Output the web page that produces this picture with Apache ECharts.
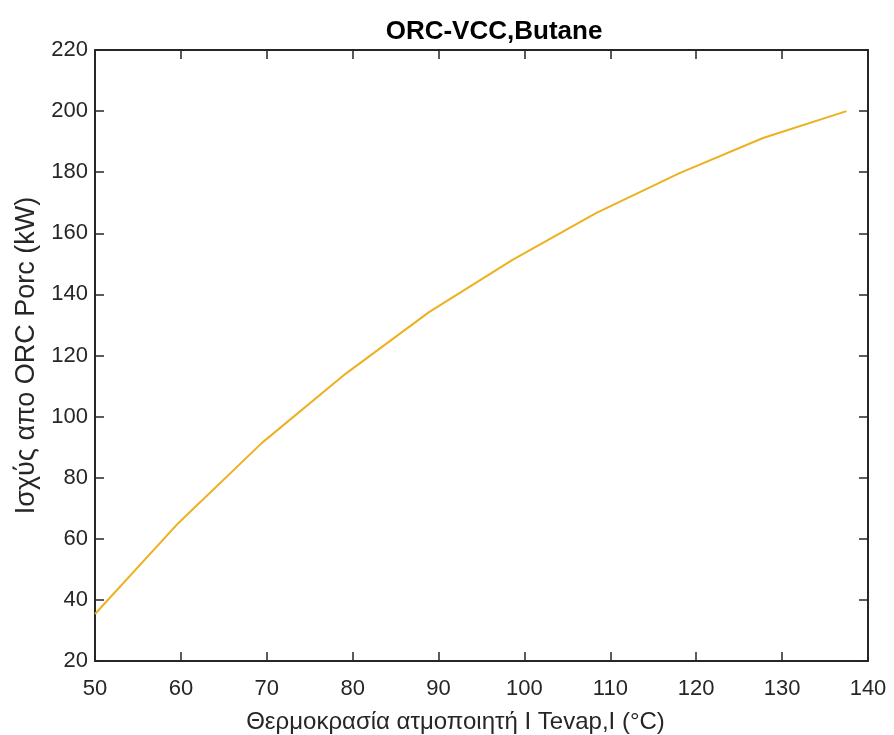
<!DOCTYPE html>
<html>
<head>
<meta charset="utf-8">
<script src="https://cdn.jsdelivr.net/npm/echarts@6/dist/echarts.min.js"></script>
<style>
  html, body { margin: 0; padding: 0; background: #fff; }
  #chart { width: 894px; height: 735px; }
</style>
</head>
<body>
<div id="chart"></div>
<script>
// Tevap (°C) and ORC power (kW)
const tevap = [50, 59.72, 69.44, 79.17, 88.89, 98.61, 108.33, 118.06, 127.78, 137.5];
const porc = [35.4, 65.2, 91.4, 114, 134.2, 151.3, 166.6, 179.7, 191.2, 200];

const axisColor = "#262626";
const font = "Liberation Sans, Arial, sans-serif";

const boxAxis = {
  axisLine: { show: true, lineStyle: { color: axisColor, width: 2 } },
  axisTick: { show: true, inside: true, length: 9, lineStyle: { color: axisColor, width: 1.5 } },
  splitLine: { show: false },
};

const option = {
  animation: false,
  backgroundColor: "#fff",
  title: {
    text: "ORC-VCC,Butane",
    left: 489,
    textAlign: "center",
    top: 14,
    textStyle: { fontFamily: font, fontSize: 26, fontWeight: "bold", color: "#000" },
  },
  grid: { left: 95, right: 26, top: 50, bottom: 74, outerBoundsMode: "none" },
  xAxis: [
    {
      type: "value",
      min: 50,
      max: 140,
      interval: 10,
      ...boxAxis,
      axisLabel: { color: axisColor, fontFamily: font, fontSize: 22, margin: 17 },
      name: "Θερμοκρασία ατμοποιητή Ι Tevap,Ι (°C)",
      nameLocation: "middle",
      nameGap: 49,
      nameTextStyle: { color: axisColor, fontFamily: font, fontSize: 24, padding: [0, 52, 0, 0] },
    },
    {
      type: "value",
      position: "top",
      min: 50,
      max: 140,
      interval: 10,
      ...boxAxis,
      axisLabel: { show: false },
    },
  ],
  yAxis: [
    {
      type: "value",
      min: 20,
      max: 220,
      interval: 20,
      ...boxAxis,
      axisLabel: { color: axisColor, fontFamily: font, fontSize: 22, margin: 7 },
      name: "Ισχύς απο ORC Porc (kW)",
      nameLocation: "middle",
      nameGap: 55,
      nameTextStyle: { color: axisColor, fontFamily: font, fontSize: 27 },
    },
    {
      type: "value",
      position: "right",
      min: 20,
      max: 220,
      interval: 20,
      ...boxAxis,
      axisLabel: { show: false },
    },
  ],
  series: [
    {
      type: "line",
      data: tevap.map((t, i) => [t, porc[i]]),
      showSymbol: false,
      lineStyle: { color: "#EDB120", width: 2 },
    },
  ],
};

const myChart = echarts.init(document.getElementById("chart"));
myChart.setOption(option);
</script>
</body>
</html>
